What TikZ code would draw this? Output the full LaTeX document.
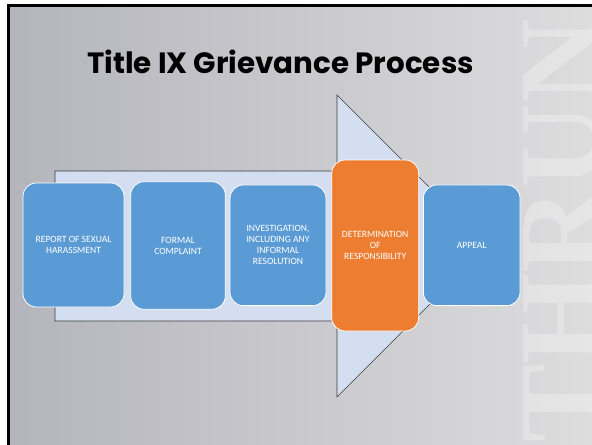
\documentclass[tikz,border=0pt]{standalone}
\usepackage{fontspec}
\setmainfont{Carlito}
\newfontfamily\titlefont{Poppins}
\newfontfamily\wmfont{Liberation Serif}
\definecolor{bgL}{RGB}{180,180,188}
\definecolor{bgR}{RGB}{221,221,222}
\definecolor{arrowfill}{RGB}{211,222,240}
\definecolor{arrowline}{RGB}{60,60,64}
\definecolor{stepblue}{RGB}{91,155,213}
\definecolor{steporange}{RGB}{237,125,49}
\tikzset{
  stepbox/.style={draw=white, line width=0.6pt, fill=stepblue, rounded corners=10pt,
    text=white, align=center, font=\fontsize{7.2}{8.3}\selectfont, inner sep=1pt},
  keybox/.style={stepbox, fill=steporange},
}
\begin{document}
\begin{tikzpicture}[x=0.75pt,y=-0.75pt]
\useasboundingbox (0,0) rectangle (592,444);
% page margin and slide
\fill[white] (0,0) rectangle (592,444);
\shade[left color=bgL, right color=bgR] (8.5,5.5) rectangle (592,444);
\draw[black, line width=2.4pt] (8.5,450) -- (8.5,5.5) -- (600,5.5);
% watermark
\node[rotate=90, anchor=north west, inner sep=0pt, text=white, opacity=0.27,
  font=\wmfont\bfseries\fontsize{88}{88}\selectfont] (wm) at (523,443) {THRUN};
% title
\node[anchor=base, inner sep=0pt, font=\titlefont\bfseries\fontsize{22}{24}\selectfont] (title) at (280.5,73) {Title IX Grievance Process};
% big arrow
\draw[fill=arrowfill, draw=arrowline, line width=0.45pt]
  (55,171) -- (337,171) -- (337,95) -- (488,246) -- (337,397) -- (337,321) -- (55,321) -- cycle;
% steps
\node[stepbox, minimum width=75.75pt, minimum height=93pt] (s1) at (73.5,245) {REPORT OF SEXUAL\\HARASSMENT};
\node[stepbox, minimum width=71pt, minimum height=95.7pt] (s2) at (178,245.5) {FORMAL\\COMPLAINT};
\node[stepbox, minimum width=72pt, minimum height=90.5pt] (s3) at (278,245.3) {INVESTIGATION,\\INCLUDING ANY\\INFORMAL\\RESOLUTION};
\node[keybox, minimum width=65.25pt, minimum height=128.25pt] (s4) at (375.2,245.5) {DETERMINATION\\OF\\RESPONSIBILITY};
\node[stepbox, minimum width=72.5pt, minimum height=90.5pt] (s5) at (471.7,245.3) {APPEAL};
\end{tikzpicture}
\end{document}
